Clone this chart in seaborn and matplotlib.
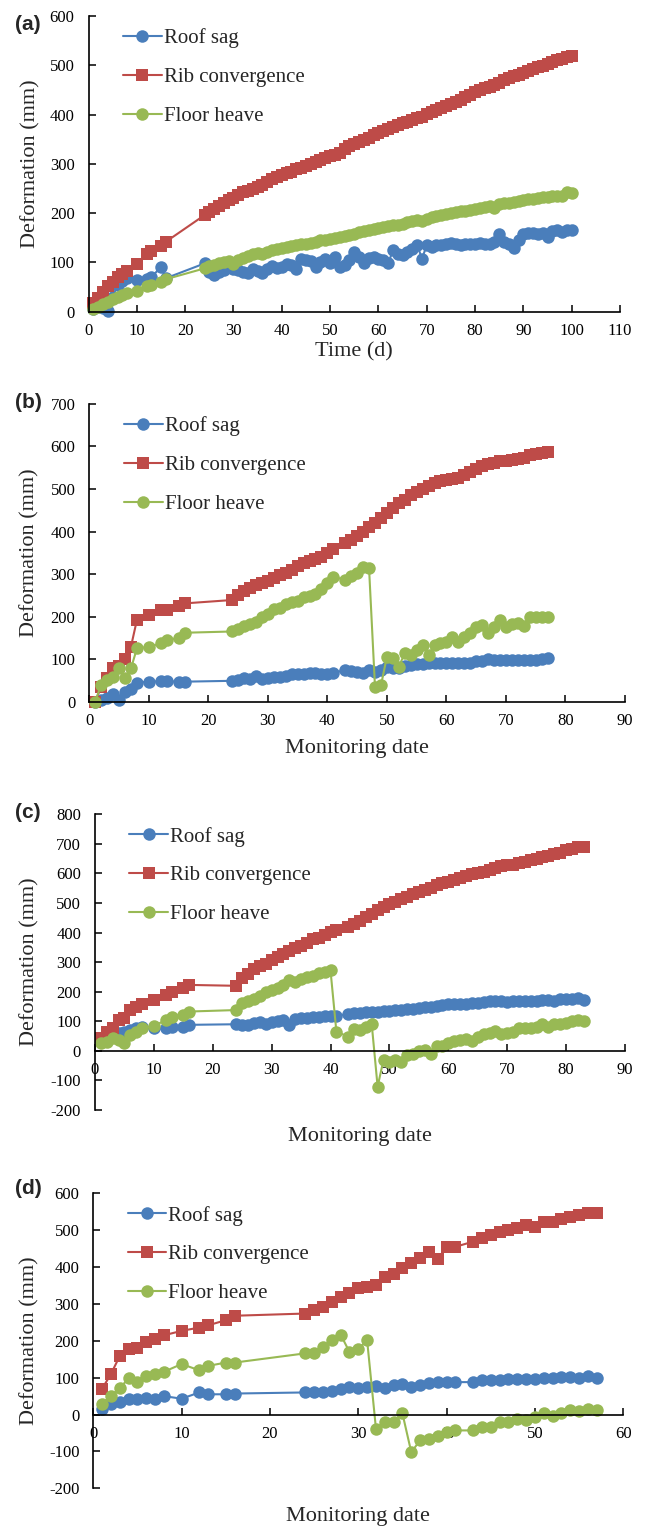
import matplotlib
matplotlib.use("Agg")
import matplotlib.pyplot as plt
import seaborn as sns

# ---------------- data ----------------
early_days = [1, 2, 3, 4, 5, 6, 7, 8, 10, 12, 13, 15, 16]

# (a) Time (d)
days_a = early_days + [24, 25, 26, 27, 28, 29, 30, 31, 32, 33, 34, 35, 36, 37, 38, 39, 40,
                       41, 42, 43, 44, 45, 46, 47, 48, 49, 50, 51, 52, 53, 54, 55, 56, 57,
                       58, 59, 60, 61, 62, 63, 64, 65, 66, 67, 68, 69, 70, 71, 72, 73, 74,
                       75, 76, 77, 78, 79, 80, 81, 82, 83, 84, 85, 86, 87, 88, 89, 90, 91,
                       92, 93, 94, 95, 96, 97, 98, 99, 100]
roof_a = [5, 10, 8, 2, 30, 55, 62, 68, 64, 66, 70, 91, 68,
          98, 80, 75, 80, 84, 90, 86, 84, 81, 78,
          86, 82, 78, 87, 93, 88, 90, 97, 95, 86,
          108, 105, 104, 90, 100, 108, 98, 112, 90, 95,
          105, 121, 112, 98, 110, 112, 108, 106, 98, 125,
          118, 115, 122, 128, 135, 108, 135, 132, 135, 136,
          138, 140, 138, 136, 138, 137, 138, 140, 138, 137,
          142, 158, 142, 138, 130, 145, 158, 160, 160, 158,
          160, 152, 163, 165, 162, 165, 165]
rib_a = [18, 27, 40, 52, 61, 70, 77, 82, 97, 118, 124, 134, 142,
         196, 203, 209, 215, 221, 226, 230, 236, 242, 246,
         250, 253, 257, 264, 269, 273, 278, 281, 284, 289,
         292, 296, 300, 304, 307, 311, 316, 319, 322, 330,
         336, 341, 345, 349, 353, 358, 362, 366, 370, 374,
         379, 383, 386, 390, 393, 395, 402, 406, 410, 414,
         418, 422, 426, 430, 435, 440, 445, 449, 453, 457,
         461, 465, 470, 474, 478, 481, 485, 489, 492, 496,
         499, 503, 507, 510, 512, 516, 518]
floor_a = [5, 10, 15, 20, 25, 30, 35, 38, 43, 52, 55, 60, 66,
           88, 92, 95, 98, 101, 104, 97, 106, 110, 114,
           117, 120, 118, 122, 125, 128, 130, 131, 133, 135,
           137, 138, 140, 142, 145, 146, 148, 150, 152, 154,
           156, 158, 161, 163, 165, 168, 170, 172, 175, 176,
           177, 179, 182, 184, 186, 185, 189, 192, 195, 197,
           199, 200, 202, 204, 205, 207, 208, 210, 212, 214,
           211, 218, 220, 221, 223, 224, 226, 228, 229, 230,
           232, 233, 234, 235, 234, 242, 240]

# (b) Monitoring date
days_b = early_days + [24, 25, 26, 27, 28, 29, 30, 31, 32, 33, 34, 35, 36, 37, 38, 39, 40, 41,
                       43, 44, 45, 46, 47, 48, 49, 50, 51, 52, 53, 54, 55, 56, 57, 58, 59,
                       60, 61, 62, 63, 64, 65, 66, 67, 68, 69, 70, 71, 72, 73, 74, 75, 76, 77]
roof_b = [0, 5, 8, 17, 5, 22, 30, 45, 47, 48, 48, 47, 47,
          49, 52, 55, 53, 60, 53, 56, 57, 59, 61,
          65, 65, 65, 67, 68, 66, 65, 67,
          75, 72, 70, 68, 74, 70, 75, 82, 80, 78,
          83, 86, 88, 88, 90, 90, 90, 91, 92, 90,
          92, 92, 95, 95, 100, 98, 98, 97, 98, 97,
          97, 97, 98, 100, 102]
rib_b = [0, 35, 55, 78, 84, 100, 129, 192, 204, 216, 216, 224, 231,
         239, 250, 260, 268, 274, 278, 283, 290, 297, 303,
         310, 318, 325, 331, 335, 340, 350, 358,
         372, 381, 390, 400, 410, 420, 432, 444, 455, 466,
         475, 485, 493, 500, 507, 513, 518, 521, 523, 525,
         533, 540, 547, 554, 559, 562, 565, 566, 569, 570,
         572, 580, 582, 585, 588]
floor_b = [0, 40, 51, 59, 78, 56, 78, 125, 129, 137, 145, 149, 162,
           165, 172, 178, 183, 188, 200, 205, 217, 220, 229,
           234, 237, 245, 249, 253, 266, 280, 294,
           286, 295, 303, 316, 314, 35, 38, 106, 102, 82,
           114, 110, 121, 133, 110, 133, 137, 141, 153, 141,
           153, 161, 176, 180, 161, 176, 192, 175, 182, 186,
           178, 200, 200, 200, 200]

# (c) Monitoring date
days_c = early_days + [24, 25, 26, 27, 28, 29, 30, 31, 32, 33, 34, 35, 36, 37, 38, 39, 40, 41,
                       43, 44, 45, 46, 47, 48, 49, 50, 51, 52, 53, 54, 55, 56, 57, 58, 59,
                       60, 61, 62, 63, 64, 65, 66, 67, 68, 69, 70, 71, 72, 73, 74, 75, 76,
                       77, 78, 79, 80, 81, 82, 83]
roof_c = [40, 48, 58, 62, 65, 70, 78, 80, 76, 76, 82, 82, 88,
          90, 88, 87, 94, 97, 92, 97, 100, 104, 87,
          108, 110, 112, 114, 116, 118, 118, 117,
          125, 127, 128, 130, 131, 132, 134, 136, 137, 138,
          140, 142, 145, 148, 150, 152, 155, 158, 158, 160,
          160, 161, 162, 164, 167, 168, 167, 165, 168, 170,
          170, 168, 170, 172, 172, 168, 175, 176, 175, 178,
          172]
rib_c = [42, 65, 76, 104, 110, 138, 149, 160, 171, 189, 200, 211, 223,
         220, 248, 260, 278, 287, 295, 308, 318, 328, 338,
         348, 356, 365, 378, 383, 393, 402, 410,
         420, 430, 440, 452, 462, 475, 485, 497, 505, 512,
         520, 530, 538, 545, 552, 560, 566, 572, 578, 584,
         592, 598, 602, 606, 612, 618, 624, 628, 628, 634,
         640, 645, 650, 655, 660, 664, 668, 680, 684, 688,
         690]
floor_c = [26, 31, 43, 37, 26, 54, 65, 76, 84, 104, 116, 121, 133,
           138, 162, 170, 176, 185, 198, 205, 212, 222, 238,
           232, 242, 250, 252, 262, 266, 272, 65,
           48, 73, 72, 82, 90, -121, -30, -36, -31, -37,
           -14, -12, -2, 2, -9, 17, 15, 26, 35, 37,
           40, 35, 48, 56, 59, 67, 56, 62, 65, 76,
           76, 76, 82, 90, 82, 92, 92, 94, 101, 103,
           101]

# (d) Monitoring date
days_d = early_days + [24, 25, 26, 27, 28, 29, 30, 31, 32, 33, 34, 35, 36, 37, 38, 39, 40, 41,
                       43, 44, 45, 46, 47, 48, 49, 50, 51, 52, 53, 54, 55, 56, 57]
roof_d = [14, 30, 34, 41, 43, 45, 43, 50, 43, 60, 55, 55, 57,
          60, 62, 62, 63, 70, 75, 72, 75, 77, 72,
          80, 84, 75, 80, 86, 88, 88, 88,
          88, 95, 95, 95, 96, 97, 97, 97, 98, 100,
          102, 102, 100, 105, 98]
rib_d = [70, 110, 159, 179, 181, 197, 206, 215, 227, 236, 242, 256, 268,
         274, 283, 292, 306, 318, 329, 342, 345, 351, 374,
         382, 397, 410, 424, 442, 422, 455, 455,
         469, 478, 487, 496, 500, 505, 514, 510, 522, 523,
         530, 537, 542, 546, 546]
floor_d = [30, 50, 72, 98, 89, 105, 111, 116, 137, 120, 132, 141, 141,
           166, 167, 184, 202, 217, 170, 177, 202, -38, -20,
           -21, 3, -102, -70, -66, -58, -47, -43,
           -43, -34, -34, -20, -20, -13, -15, -6, 3, -3,
           5, 12, 10, 16, 12]

series_names = ["Roof sag", "Rib convergence", "Floor heave"]
series_colors = ["#4A7EBB", "#BE4B48", "#98B954"]
series_markers = ["o", "s", "o"]

# ---------------- style ----------------
sns.set_style("ticks")
plt.rcParams["font.family"] = ["Liberation Serif", "DejaVu Serif"]
plt.rcParams["axes.linewidth"] = 1.2
plt.rcParams["axes.unicode_minus"] = False

fig = plt.figure(figsize=(6.46, 15.26), dpi=100)

panels = [
    dict(tag="(a)", rect=[0.137, 0.7957, 0.823, 0.1938], days=days_a,
         data=[roof_a, rib_a, floor_a], xlim=(0, 110), ylim=(0, 600), ystep=100,
         xlabel="Time (d)", xlab_y=-0.136, ylab_x=-0.108, tag_y=24, zero_axis=False),
    dict(tag="(b)", rect=[0.1382, 0.5402, 0.8293, 0.1951], days=days_b,
         data=[roof_b, rib_b, floor_b], xlim=(0, 90), ylim=(0, 700), ystep=100,
         xlabel="Monitoring date", xlab_y=-0.159, ylab_x=-0.111, tag_y=403, zero_axis=False),
    dict(tag="(c)", rect=[0.147, 0.2726, 0.8204, 0.1938], days=days_c,
         data=[roof_c, rib_c, floor_c], xlim=(0, 90), ylim=(-200, 800), ystep=100,
         xlabel="Monitoring date", xlab_y=-0.091, ylab_x=-0.123, tag_y=812, zero_axis=True),
    dict(tag="(d)", rect=[0.1444, 0.0247, 0.8204, 0.1933], days=days_d,
         data=[roof_d, rib_d, floor_d], xlim=(0, 60), ylim=(-200, 600), ystep=100,
         xlabel="Monitoring date", xlab_y=-0.095, ylab_x=-0.119, tag_y=1188, zero_axis=True),
]

H = 1526.0
for p in panels:
    ax = fig.add_axes(p["rect"])
    for vals, name, col, mk in zip(p["data"], series_names, series_colors, series_markers):
        sns.lineplot(x=p["days"], y=vals, ax=ax, color=col, marker=mk,
                     markersize=9 if mk == "o" else 8.5, markeredgewidth=0,
                     linewidth=1.5, label=name, sort=False, estimator=None,
                     clip_on=False)

    ax.set_xlim(*p["xlim"])
    ax.set_ylim(*p["ylim"])
    ax.set_xticks(range(p["xlim"][0], p["xlim"][1] + 1, 10))
    ax.set_yticks(range(p["ylim"][0], p["ylim"][1] + 1, p["ystep"]))

    for s in ["top", "right"]:
        ax.spines[s].set_visible(False)
    for s in ["left", "bottom"]:
        ax.spines[s].set_color("black")
        ax.spines[s].set_linewidth(1.2)
    if p["zero_axis"]:
        ax.spines["bottom"].set_position(("data", 0))

    ax.tick_params(axis="both", direction="in", length=5, width=1.1,
                   labelsize=12, colors="black")
    ax.tick_params(axis="x", pad=8)
    ax.tick_params(axis="y", pad=10)

    ax.set_xlabel(p["xlabel"], fontsize=16)
    ax.xaxis.label.set_va("center")
    ax.xaxis.set_label_coords(0.5, p["xlab_y"])
    ax.set_ylabel("Deformation (mm)", fontsize=16)
    ax.yaxis.label.set_va("center")
    ax.yaxis.set_label_coords(p["ylab_x"], 0.5)

    ax.legend(loc="upper left", bbox_to_anchor=(0.065, 0.958), frameon=False,
              fontsize=15, handlelength=1.85, handletextpad=0.1,
              labelspacing=0.92, borderpad=0, borderaxespad=0)

    fig.text(15 / 646.0, 1 - p["tag_y"] / H, p["tag"], fontsize=15,
             fontweight="bold", family=["Liberation Sans", "DejaVu Sans"],
             ha="left", va="center")

fig.savefig("out.png", dpi=100)
